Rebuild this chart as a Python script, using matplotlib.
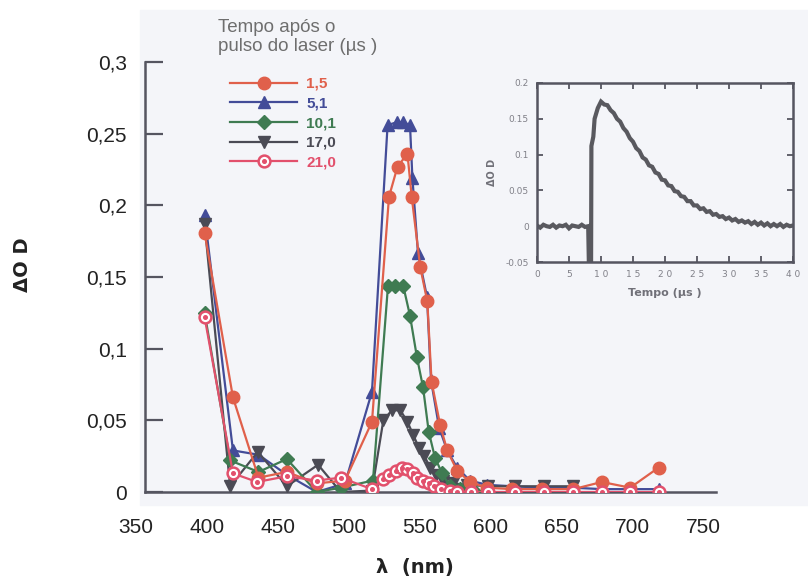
import matplotlib
matplotlib.use("Agg")
import matplotlib.pyplot as plt
from matplotlib.patches import Rectangle
from matplotlib.legend_handler import HandlerTuple
from matplotlib.transforms import ScaledTranslation

# ---------------- data: transient absorption spectra ----------------
wl_15 = [390, 410, 428, 448, 469, 489, 508, 520, 526, 533, 536, 542, 547, 550, 556,
         561, 568, 577, 589, 607, 628, 650, 670, 690, 710]
od_15 = [0.181, 0.066, 0.010, 0.014, 0.006, 0.008, 0.049, 0.206, 0.227, 0.236, 0.206,
         0.157, 0.133, 0.077, 0.047, 0.029, 0.015, 0.007, 0.003, 0.002, 0.002, 0.002,
         0.007, 0.003, 0.017]

wl_51 = [390, 410, 428, 448, 469, 489, 508, 519, 525.6, 530, 534.8, 536.5, 540.4, 546.8,
         549.6, 555.3, 561, 568, 577, 589, 607, 628, 650, 670, 690, 710]
od_51 = [0.193, 0.029, 0.026, 0.012, 0.000, 0.006, 0.070, 0.256, 0.258, 0.258, 0.256,
         0.219, 0.167, 0.136, 0.078, 0.045, 0.029, 0.017, 0.008, 0.005, 0.004, 0.003,
         0.003, 0.002, 0.002, 0.002]

wl_101 = [390, 408, 428, 448, 469, 486, 508.7, 519.3, 524, 530, 534.8, 539.7, 544, 548,
          552.4, 557.4, 563, 570, 580]
od_101 = [0.125, 0.022, 0.014, 0.023, 0.000, 0.003, 0.008, 0.144, 0.144, 0.144, 0.123,
          0.094, 0.073, 0.042, 0.024, 0.013, 0.004, 0.002, 0.001]

wl_170 = [390, 408, 427.5, 448, 470, 486, 508, 516, 522, 528, 533, 537, 541, 545, 549,
          553, 558, 565, 575, 590, 609, 629, 650]
od_170 = [0.187, 0.004, 0.028, 0.004, 0.019, 0.000, 0.001, 0.050, 0.057, 0.057, 0.049,
          0.040, 0.031, 0.025, 0.017, 0.012, 0.008, 0.006, 0.005, 0.004, 0.004, 0.004,
          0.004]

wl_210 = [390, 410, 427, 448, 469, 486, 508, 516, 520, 525, 529, 533, 537, 540, 544,
          548, 552, 557, 563, 568, 578, 590, 609, 629, 650, 670, 690, 710]
od_210 = [0.122, 0.013, 0.007, 0.011, 0.008, 0.010, 0.002, 0.009, 0.012, 0.015, 0.017,
          0.016, 0.013, 0.010, 0.008, 0.006, 0.004, 0.002, 0.001, 0.000, 0.000, 0.000,
          0.000, 0.000, 0.000, 0.000, 0.000, 0.000]

legend_labels = ["1,5", "5,1", "10,1", "17,0", "21,0"]

x_ticks = [350, 400, 450, 500, 550, 600, 650, 700, 750]
x_tick_labels = ["350", "400", "450", "500", "550", "600", "650", "700", "750"]
y_ticks = [0, 0.05, 0.10, 0.15, 0.20, 0.25, 0.30]
y_tick_labels = ["0", "0,05", "0,1", "0,15", "0,2", "0,25", "0,3"]

# ---------------- data: kinetic trace (inset) ----------------
t_us = [0, 0.5, 1, 1.5, 2, 2.5, 3, 3.5, 4, 4.5, 5, 5.5, 6, 6.5, 7, 7.5, 8.0,
        8.1, 8.45, 8.5, 8.8, 9.0, 9.5, 10, 10.5, 11, 11.5, 12, 12.5, 13, 13.5, 14, 14.5,
        15, 15.5, 16, 16.5, 17, 17.5, 18, 18.5, 19, 19.5, 20, 20.5, 21, 21.5, 22, 22.5,
        23, 23.5, 24, 24.5, 25, 25.5, 26, 26.5, 27, 27.5, 28, 28.5, 29, 29.5, 30, 30.5,
        31, 31.5, 32, 32.5, 33, 33.5, 34, 34.5, 35, 35.5, 36, 36.5, 37, 37.5, 38, 38.5,
        39, 39.5, 40]
dod = [0.001, -0.002, 0.002, 0.000, -0.001, 0.002, -0.002, 0.001, 0.000, 0.002,
       -0.003, 0.001, 0.000, -0.001, 0.002, -0.001, 0.000,
       -0.050, -0.050, 0.112, 0.125, 0.150, 0.165, 0.174, 0.170, 0.169, 0.162, 0.158,
       0.150, 0.146, 0.137, 0.132, 0.123, 0.118, 0.109, 0.105, 0.096, 0.093, 0.085,
       0.083, 0.075, 0.073, 0.065, 0.064, 0.057, 0.056, 0.049, 0.048, 0.042, 0.041,
       0.035, 0.035, 0.029, 0.029, 0.024, 0.025, 0.020, 0.021, 0.016, 0.017, 0.013,
       0.014, 0.010, 0.012, 0.008, 0.010, 0.006, 0.008, 0.005, 0.007, 0.003, 0.006,
       0.002, 0.005, 0.001, 0.004, 0.000, 0.003, 0.000, 0.003, -0.001, 0.002, 0.000,
       0.001]
inset_x_ticks = [0, 5, 10, 15, 20, 25, 30, 35, 40]
inset_x_labels = ["0", "5", "1 0", "1 5", "2 0", "2 5", "3 0", "3 5", "4 0"]
inset_y_ticks = [-0.05, 0, 0.05, 0.1, 0.15, 0.2]
inset_y_labels = ["-0.05", "0", "0.05", "0.1", "0.15", "0.2"]

# ---------------- styling ----------------
c15, c51, c101, c170, c210 = "#e0604b", "#434c98", "#3f7b52", "#4b4b55", "#e2506c"
axis_col = "#555560"
tick_font = "Liberation Sans"

W, H = 808, 587
fig = plt.figure(figsize=(W / 100, H / 100), dpi=100)
fig.patch.set_facecolor("white")
fig.patches.append(Rectangle((140 / W, 82 / H), (W - 140) / W, 495 / H,
                             transform=fig.transFigure, color="#f4f5f9", zorder=-10))

ax = fig.add_axes([145 / W, (H - 492) / H, 571 / W, 430 / H])
ax.set_facecolor("none")

l51, = ax.plot(wl_51, od_51, color=c51, lw=1.6, marker="^", ms=9, zorder=3)
l170, = ax.plot(wl_170, od_170, color=c170, lw=1.6, marker="v", ms=9, zorder=4)
l101, = ax.plot(wl_101, od_101, color=c101, lw=1.6, marker="D", ms=7, zorder=5)
l15, = ax.plot(wl_15, od_15, color=c15, lw=1.6, marker="o", ms=9, zorder=6)
l210, = ax.plot(wl_210, od_210, color=c210, lw=1.6, marker="o", ms=8.5,
                mfc="white", mec=c210, mew=1.8, zorder=7)
d210, = ax.plot(wl_210, od_210, ls="none", marker="o", ms=2.6, color=c210, zorder=8)

ax.set_xlim(348, 750.5)
ax.set_ylim(0, 0.3)
for s in ("top", "right"):
    ax.spines[s].set_visible(False)
for s in ("left", "bottom"):
    ax.spines[s].set_color(axis_col)
    ax.spines[s].set_linewidth(1.8)

ax.set_xticks(x_ticks)
ax.set_xticklabels(x_tick_labels, fontfamily=tick_font, fontsize=15, color="#222222")
ax.set_xticks([400, 500, 600, 700, 750], minor=True)
ax.tick_params(axis="x", which="major", length=0, pad=19)
ax.tick_params(axis="x", which="minor", direction="in", length=10, width=1.6, color=axis_col)
shift = ScaledTranslation(-12 / 100, 0, fig.dpi_scale_trans)
for lab in ax.get_xticklabels():
    lab.set_transform(lab.get_transform() + shift)
ax.set_yticks(y_ticks)
ax.set_yticklabels(y_tick_labels, fontfamily=tick_font, fontsize=15, color="#222222")
ax.tick_params(axis="y", direction="in", length=13, width=1.6, color=axis_col, pad=13)

leg = ax.legend([l15, l51, l101, l170, (l210, d210)], legend_labels,
                handler_map={tuple: HandlerTuple(ndivide=1, pad=0)},
                loc="upper left", bbox_to_anchor=(230 / W, (H - 77) / H),
                bbox_transform=fig.transFigure, frameon=False, borderpad=0,
                borderaxespad=0, handlelength=4.4, handletextpad=0.6,
                labelspacing=0.37, prop={"family": tick_font, "size": 11, "weight": "bold"})
for txt, col in zip(leg.get_texts(), [c15, c51, c101, c170, c210]):
    txt.set_color(col)

fig.text(218 / W, (H - 19) / H, "Tempo após o\npulso do laser (µs )", ha="left", va="top",
         fontsize=13.5, color="#6e6e6e", linespacing=1.12, fontfamily=tick_font)
fig.text(22 / W, (H - 265) / H, "ΔO D", rotation=90, ha="center", va="center",
         fontsize=14, fontweight="bold", color="#222222")
fig.text(415 / W, (H - 568) / H, "λ  (nm)", ha="center", va="center",
         fontsize=14, fontweight="bold", color="#222222")

# ---------------- inset ----------------
axi = fig.add_axes([537 / W, (H - 262) / H, 256 / W, 179 / H])
axi.set_facecolor("none")
axi.plot(t_us, dod, color="#59595f", lw=3.0, solid_joinstyle="miter")
axi.set_xlim(0, 40)
axi.set_ylim(-0.05, 0.2)
axi.set_xticks(inset_x_ticks)
axi.set_xticklabels(inset_x_labels)
axi.set_yticks(inset_y_ticks)
axi.set_yticklabels(inset_y_labels)
axi.tick_params(direction="in", top=True, right=True, length=4, width=1.3,
                color=axis_col, labelsize=6.5, labelcolor="#808088", pad=6)
for s in axi.spines.values():
    s.set_color(axis_col)
    s.set_linewidth(1.8)
axi.set_xlabel("Tempo (µs )", fontsize=8, fontweight="bold", color="#707078", labelpad=6)
axi.set_ylabel("ΔO D", fontsize=7, fontweight="bold", color="#707078", labelpad=6)

fig.savefig("out.png", dpi=100, facecolor=fig.get_facecolor())
